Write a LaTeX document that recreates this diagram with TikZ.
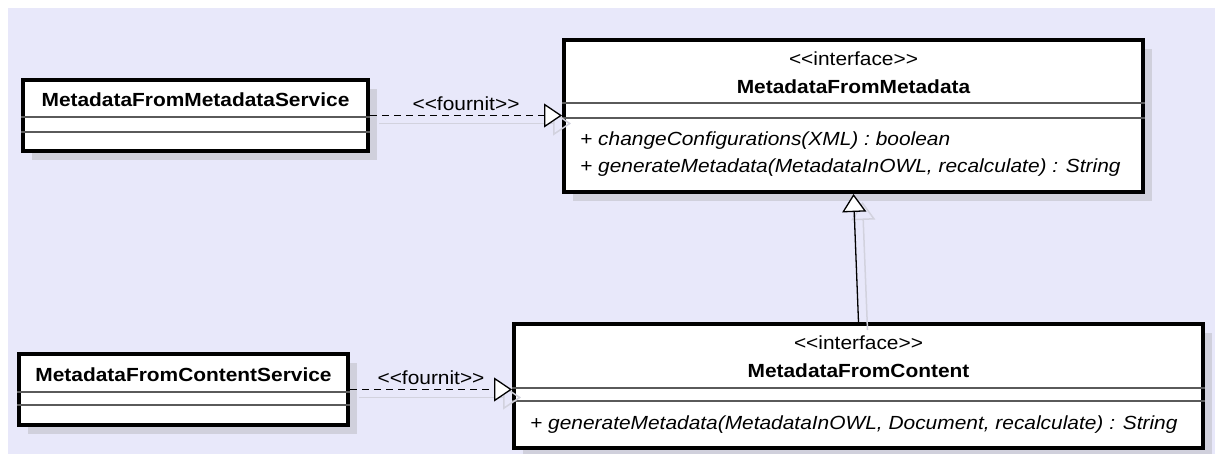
\documentclass[tikz,border=0pt]{standalone}
\usepackage{fontspec}
\setmainfont[FakeStretch=1.1]{Liberation Sans}
\usetikzlibrary{arrows.meta,shadows}
\definecolor{umlbg}{RGB}{232,232,250}
\definecolor{umlshadow}{RGB}{208,208,220}
\definecolor{umlghost}{RGB}{210,210,222}
\definecolor{umlsep}{RGB}{90,90,90}
\newcommand{\stereo}[1]{<\kern0pt<#1>\kern0pt>}

\begin{document}
\begin{tikzpicture}[x=1pt, y=-1pt,
	umlbox/.style={draw, line width=4pt, fill=white, inner sep=0pt, anchor=north west,
		drop shadow={shadow xshift=9pt, shadow yshift=-9pt, fill=umlshadow, opacity=1}},
	umltext/.style={inner sep=0pt, font=\fontsize{19}{23}\selectfont},
	umlname/.style={inner sep=0pt, font=\fontsize{19}{23}\selectfont\bfseries},
	umlop/.style={inner sep=0pt, anchor=west, font=\fontsize{19}{23}\selectfont\itshape},
	umlsep/.style={draw=umlsep, line width=1.5pt},
	opentip/.tip={Triangle[fill=white, length=18pt, width=24pt]},
	realize/.style={line width=1.3pt, dash pattern=on 7pt off 5pt, -opentip},
	inherit/.style={line width=1.3pt, -opentip},
	ghost/.style={draw=umlghost, line width=1.5pt, -{Triangle[open, length=18pt, width=24pt]},
		transform canvas={xshift=9pt, yshift=-8pt}}]
	\fill [umlbg] (8, 8) rectangle (1215, 454);
	\useasboundingbox (0, 0) rectangle (1215, 454);

	\node [umlbox, minimum width=345pt, minimum height=71pt] (svc1) at (21, 78) {};
	\node [umlbox, minimum width=579pt, minimum height=152pt] (iface1) at (562, 38) {};
	\node [umlbox, minimum width=329pt, minimum height=71pt] (svc2) at (17, 352) {};
	\node [umlbox, minimum width=689pt, minimum height=124pt] (iface2) at (512, 322) {};

	\draw [umlsep] ([yshift=-39pt]svc1.north west) -- ([yshift=-39pt]svc1.north east);
	\draw [umlsep] ([yshift=-54pt]svc1.north west) -- ([yshift=-54pt]svc1.north east);
	\draw [umlsep] ([yshift=-65pt]iface1.north west) -- ([yshift=-65pt]iface1.north east);
	\draw [umlsep] ([yshift=-80pt]iface1.north west) -- ([yshift=-80pt]iface1.north east);
	\draw [umlsep] ([yshift=-40pt]svc2.north west) -- ([yshift=-40pt]svc2.north east);
	\draw [umlsep] ([yshift=-53pt]svc2.north west) -- ([yshift=-53pt]svc2.north east);
	\draw [umlsep] ([yshift=-66pt]iface2.north west) -- ([yshift=-66pt]iface2.north east);
	\draw [umlsep] ([yshift=-79pt]iface2.north west) -- ([yshift=-79pt]iface2.north east);

	\node [umlname] (svc1name) at ([yshift=-22pt]svc1.north) {MetadataFromMetadataService};
	\node [umltext] (iface1st) at ([yshift=-21pt]iface1.north) {\stereo{interface}};
	\node [umlname] (iface1name) at ([yshift=-49pt]iface1.north) {MetadataFromMetadata};
	\node [umlop] (iface1opa) at ([shift={(18pt,-103pt)}]iface1.north west) {+ changeConfigurations(XML) : boolean};
	\node [umlop] (iface1opb) at ([shift={(18pt,-130pt)}]iface1.north west) {+ generateMetadata(MetadataInOWL, recalculate) : String};
	\node [umlname] (svc2name) at ([yshift=-23pt]svc2.north) {MetadataFromContentService};
	\node [umltext] (iface2st) at ([yshift=-21pt]iface2.north) {\stereo{interface}};
	\node [umlname] (iface2name) at ([yshift=-49pt]iface2.north) {MetadataFromContent};
	\node [umlop] (iface2op) at ([shift={(18pt,-103pt)}]iface2.north west) {+ generateMetadata(MetadataInOWL, Document, recalculate) : String};

	\draw [ghost] (svc1.east) -- (svc1.east -| iface1.west);
	\draw [ghost] (svc2.east) -- (svc2.east -| iface2.west);
	\draw [ghost] (iface2.north) -- (iface1.south);

	\draw [realize] (svc1.east) -- (svc1.east -| iface1.west) node [midway, above=4pt, umltext] {\stereo{fournit}};
	\draw [realize] (svc2.east) -- (svc2.east -| iface2.west) node [midway, above=4pt, umltext] {\stereo{fournit}};
	\draw [inherit] (iface2.north) -- (iface1.south);
\end{tikzpicture}
\end{document}
